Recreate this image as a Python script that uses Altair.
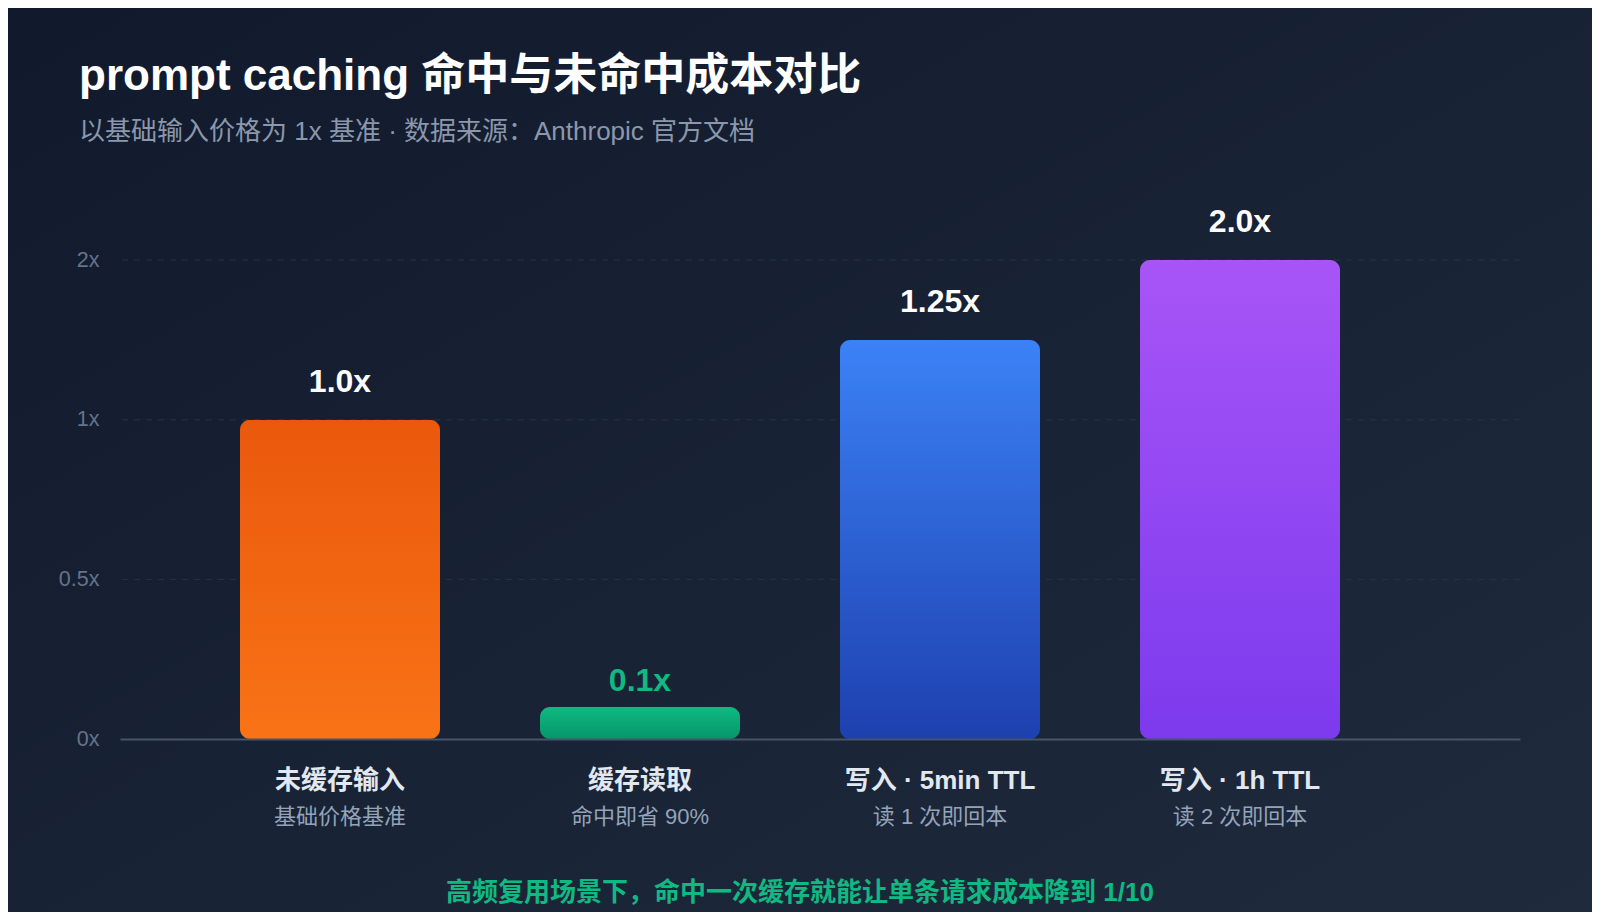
import altair as alt
import pandas as pd

# ---- data ----
categories = ["未缓存输入", "缓存读取", "写入 · 5min TTL", "写入 · 1h TTL"]
sub_labels = ["基础价格基准", "命中即省 90%", "读 1 次即回本", "读 2 次即回本"]
values = [1.0, 0.1, 1.25, 2.0]
value_labels = ["1.0x", "0.1x", "1.25x", "2.0x"]
tick_values = [0, 0.5, 1, 2]
grid_values = [0.5, 1, 2]
title_text = "prompt caching 命中与未命中成本对比"
subtitle_text = "以基础输入价格为 1x 基准 · 数据来源：Anthropic 官方文档"
footer_text = "高频复用场景下，命中一次缓存就能让单条请求成本降到 1/10"
highlight = "缓存读取"

# ---- styles ----
FONT = "Liberation Sans, Noto Sans CJK SC, sans-serif"
grad_top = ["#ea580c", "#10b981", "#3b82f6", "#a855f7"]
grad_bottom = ["#f97316", "#059669", "#1e40af", "#7c3aed"]
GREEN = "#10b981"

W, H = 1400, 479

df = pd.DataFrame({"cat": categories, "sub": sub_labels, "value": values, "label": value_labels})

x_enc = alt.X(
    "cat:N",
    scale=alt.Scale(domain=categories, paddingInner=1 / 3, paddingOuter=0.5, align=0.4),
    axis=alt.Axis(labels=False, ticks=False, domain=True, domainColor="#475569",
                  domainWidth=2, grid=False, title=None, zindex=1),
)
y_enc = alt.Y(
    "value:Q",
    scale=alt.Scale(domain=[0, 1.25, 2], range=[H, 80, 0], nice=False, zero=False),
    axis=alt.Axis(values=tick_values, labelExpr="datum.value + 'x'", grid=False,
                  domain=False, ticks=False, tickSize=0, labelPadding=21,
                  labelFontSize=21.5, labelColor="#64748b", labelFont=FONT,
                  labelFlush=False, labelOverlap=False, title=None, zindex=1),
)

one = pd.DataFrame({"t": [0]})

background = alt.Chart(one).mark_rect(
    fill={"gradient": "linear", "x1": 0, "y1": 0, "x2": 1, "y2": 1,
          "stops": [{"offset": 0, "color": "#111a2c"}, {"offset": 1, "color": "#1f2a3d"}]}
).encode(x=alt.value(-112), x2=alt.value(W + 72), y=alt.value(-252), y2=alt.value(H + 173))

grid = alt.Chart(pd.DataFrame({"value": grid_values})).mark_rule(
    color="#273247", strokeWidth=1, strokeDash=[6, 6]
).encode(y=y_enc)

layers = [background, grid]

for i, c in enumerate(categories):
    bar = alt.Chart(df).transform_filter(alt.datum.cat == c).mark_bar(
        cornerRadius=10,
        color={"gradient": "linear", "x1": 0, "y1": 0, "x2": 0, "y2": 1,
               "stops": [{"offset": 0, "color": grad_top[i]},
                         {"offset": 1, "color": grad_bottom[i]}]},
    ).encode(x=x_enc, y=y_enc)
    layers.append(bar)

labels_main = alt.Chart(df).transform_filter(alt.datum.cat != highlight).mark_text(
    dy=-28, baseline="alphabetic", fontSize=32, fontWeight="bold", color="#ffffff", font=FONT
).encode(x=x_enc, y=y_enc, text="label:N")

labels_hi = alt.Chart(df).transform_filter(alt.datum.cat == highlight).mark_text(
    dy=-16, baseline="alphabetic", fontSize=32, fontWeight="bold", color=GREEN, font=FONT
).encode(x=x_enc, y=y_enc, text="label:N")

cat_text = alt.Chart(df).mark_text(
    baseline="alphabetic", fontSize=26, fontWeight="bold", color="#e2e8f0", font=FONT
).encode(x=x_enc, y=alt.value(529), text="cat:N")

sub_text = alt.Chart(df).mark_text(
    baseline="alphabetic", fontSize=22, color="#94a3b8", font=FONT
).encode(x=x_enc, y=alt.value(564), text="sub:N")

title = alt.Chart(pd.DataFrame({"t": [title_text]})).mark_text(
    align="left", baseline="alphabetic", fontSize=44, fontWeight="bold", color="#ffffff", font=FONT
).encode(x=alt.value(-41), y=alt.value(-170), text="t:N")

subtitle = alt.Chart(pd.DataFrame({"t": [subtitle_text]})).mark_text(
    align="left", baseline="alphabetic", fontSize=26, color="#8b97ab", font=FONT
).encode(x=alt.value(-41), y=alt.value(-120), text="t:N")

footer = alt.Chart(pd.DataFrame({"t": [footer_text]})).mark_text(
    align="center", baseline="alphabetic", fontSize=26, fontWeight="bold", color=GREEN, font=FONT
).encode(x=alt.value(680), y=alt.value(641), text="t:N")

layers += [labels_main, labels_hi, cat_text, sub_text, title, subtitle, footer]

chart = alt.layer(*layers).properties(
    width=W, height=H,
    padding={"left": 112, "top": 252, "right": 72, "bottom": 173},
    autosize=alt.AutoSizeParams(type="none"),
    background="#151e31",
).configure_view(stroke=None)

chart.save("out.html", embed_options={"renderer": "svg", "actions": False})
